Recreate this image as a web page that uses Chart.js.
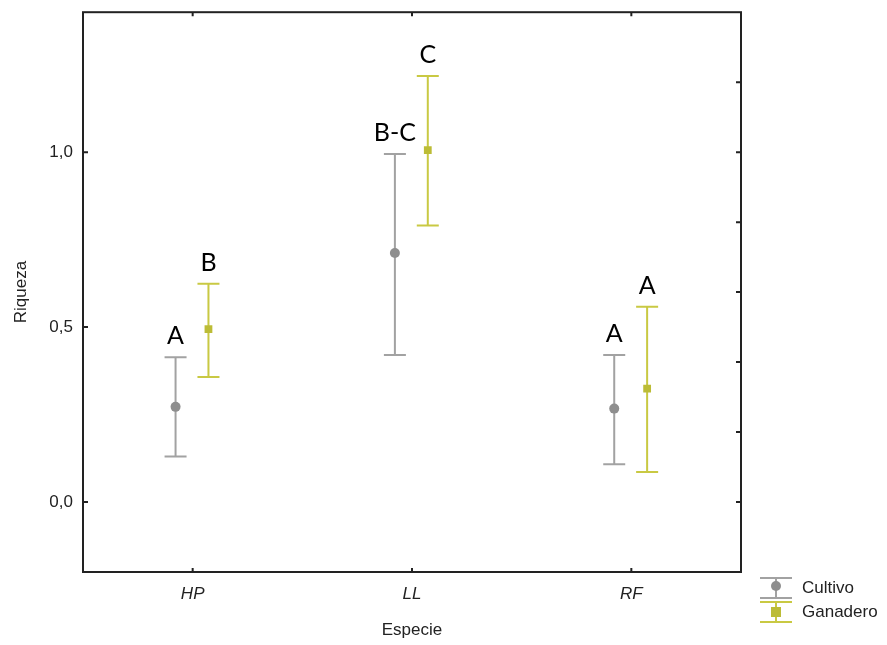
<!DOCTYPE html>
<html>
<head>
<meta charset="utf-8">
<script src="https://cdn.jsdelivr.net/npm/chart.js@4/dist/chart.umd.min.js"></script>
<style>
  html, body { margin: 0; padding: 0; background: #fff; }
  #wrap { width: 887px; height: 645px; }
</style>
</head>
<body>
<div id="wrap"><canvas id="chart" width="887" height="645"></canvas></div>
<script>
const species = ['HP', 'LL', 'RF'];
const seriesNames = ['Cultivo', 'Ganadero'];

const cultivoMean = [0.272, 0.712, 0.267];
const cultivoLow = [0.130, 0.420, 0.108];
const cultivoHigh = [0.414, 0.995, 0.420];
const cultivoLetters = ['A', 'B-C', 'A'];

const ganaderoMean = [0.494, 1.006, 0.324];
const ganaderoLow = [0.357, 0.790, 0.086];
const ganaderoHigh = [0.624, 1.218, 0.558];
const ganaderoLetters = ['B', 'C', 'A'];

const yTickValues = [0, 0.5, 1.0];
const yRightTicks = [0, 0.2, 0.4, 0.6, 0.8, 1.0, 1.2];

const GRAY = '#a2a2a2';
const GRAY_MARK = '#8e8e8e';
const OLIVE = '#c9c943';
const OLIVE_MARK = '#bcbc36';
const AXIS = '#222';
const FONT = '"Liberation Sans", Arial, sans-serif';

function points(means, shift) {
  return means.map((m, i) => ({ x: i + 1 + shift, y: m }));
}

const errorBars = {
  id: 'errorBars',
  beforeDatasetsDraw(chart) {
    const { ctx, scales: { x, y } } = chart;
    chart.data.datasets.forEach(ds => {
      ctx.save();
      ctx.strokeStyle = ds.barColor;
      ctx.lineWidth = 2;
      ds.data.forEach((p, i) => {
        const px = x.getPixelForValue(p.x);
        const top = y.getPixelForValue(ds.high[i]);
        const bot = y.getPixelForValue(ds.low[i]);
        ctx.beginPath();
        ctx.moveTo(px, top); ctx.lineTo(px, bot);
        ctx.moveTo(px - 11, top); ctx.lineTo(px + 11, top);
        ctx.moveTo(px - 11, bot); ctx.lineTo(px + 11, bot);
        ctx.stroke();
        // significance letter
        ctx.fillStyle = '#000';
        ctx.font = '25px Lato, "Noto Sans", sans-serif';
        ctx.textAlign = 'center';
        ctx.textBaseline = 'alphabetic';
        ctx.fillText(ds.letters[i], px, top - 13);
      });
      ctx.restore();
    });
  }
};

const frame = {
  id: 'frame',
  afterDraw(chart) {
    const { ctx, chartArea: a, scales: { x, y } } = chart;
    ctx.save();
    ctx.strokeStyle = AXIS;
    ctx.lineWidth = 2;
    ctx.strokeRect(a.left, a.top, a.right - a.left, a.bottom - a.top);
    ctx.beginPath();
    yTickValues.forEach(v => {
      const py = y.getPixelForValue(v);
      ctx.moveTo(a.left, py); ctx.lineTo(a.left + 5, py);
    });
    yRightTicks.forEach(v => {
      const py = y.getPixelForValue(v);
      ctx.moveTo(a.right, py); ctx.lineTo(a.right - 5, py);
    });
    species.forEach((s, i) => {
      const px = x.getPixelForValue(i + 1);
      ctx.moveTo(px, a.top); ctx.lineTo(px, a.top + 4);
      ctx.moveTo(px, a.bottom); ctx.lineTo(px, a.bottom - 4);
    });
    ctx.stroke();

    // legend
    const items = [
      { name: seriesNames[0], color: GRAY, mark: GRAY_MARK, shape: 'circle', cy: 588 },
      { name: seriesNames[1], color: OLIVE, mark: OLIVE_MARK, shape: 'square', cy: 612 }
    ];
    const lx = 776;
    items.forEach(it => {
      ctx.strokeStyle = it.color;
      ctx.lineWidth = 2;
      ctx.beginPath();
      ctx.moveTo(lx, it.cy - 10); ctx.lineTo(lx, it.cy + 10);
      ctx.moveTo(lx - 16, it.cy - 10); ctx.lineTo(lx + 16, it.cy - 10);
      ctx.moveTo(lx - 16, it.cy + 10); ctx.lineTo(lx + 16, it.cy + 10);
      ctx.stroke();
      ctx.fillStyle = it.mark;
      if (it.shape === 'circle') {
        ctx.beginPath(); ctx.arc(lx, it.cy - 2, 5, 0, Math.PI * 2); ctx.fill();
      } else {
        ctx.fillRect(lx - 5, it.cy - 5, 10, 10);
      }
      ctx.fillStyle = '#222';
      ctx.font = '17px ' + FONT;
      ctx.textAlign = 'left';
      ctx.textBaseline = 'middle';
      ctx.fillText(it.name, 802, it.cy);
    });
    ctx.restore();
  }
};

new Chart(document.getElementById('chart'), {
  type: 'scatter',
  data: {
    datasets: [
      {
        label: seriesNames[0],
        data: points(cultivoMean, -0.078),
        low: cultivoLow, high: cultivoHigh, letters: cultivoLetters,
        barColor: GRAY,
        pointStyle: 'circle', pointRadius: 5,
        backgroundColor: GRAY_MARK, borderColor: GRAY_MARK, borderWidth: 0
      },
      {
        label: seriesNames[1],
        data: points(ganaderoMean, 0.072),
        low: ganaderoLow, high: ganaderoHigh, letters: ganaderoLetters,
        barColor: OLIVE,
        pointStyle: 'rect', pointRadius: 5.5,
        backgroundColor: OLIVE_MARK, borderColor: OLIVE_MARK, borderWidth: 0
      }
    ]
  },
  options: {
    responsive: false,
    animation: false,
    layout: { padding: { top: -4, right: 146, left: 0, bottom: 0 } },
    plugins: { legend: { display: false }, tooltip: { enabled: false } },
    scales: {
      x: {
        type: 'linear', min: 0.5, max: 3.5,
        grid: { display: false }, border: { display: false },
        afterBuildTicks: s => { s.ticks = species.map((_, i) => ({ value: i + 1 })); },
        afterFit: s => { s.height = 73; },
        ticks: {
          padding: 4, color: '#222',
          font: { family: FONT, size: 17, style: 'italic' },
          callback: (v) => species[v - 1]
        },
        title: {
          display: true, text: 'Especie', color: '#222',
          font: { family: FONT, size: 17 }, padding: { top: 4, bottom: 4 }
        }
      },
      y: {
        min: -0.2, max: 1.4,
        grid: { display: false }, border: { display: false },
        afterBuildTicks: s => { s.ticks = yTickValues.map(v => ({ value: v })); },
        afterFit: s => { s.width = 83; },
        ticks: {
          padding: 2, color: '#222',
          font: { family: FONT, size: 17 },
          callback: v => v.toFixed(1).replace('.', ',')
        },
        title: {
          display: true, text: 'Riqueza', color: '#222',
          font: { family: FONT, size: 17 }, padding: { top: 11, bottom: 0 }
        }
      }
    }
  },
  plugins: [errorBars, frame]
});
</script>
</body>
</html>
